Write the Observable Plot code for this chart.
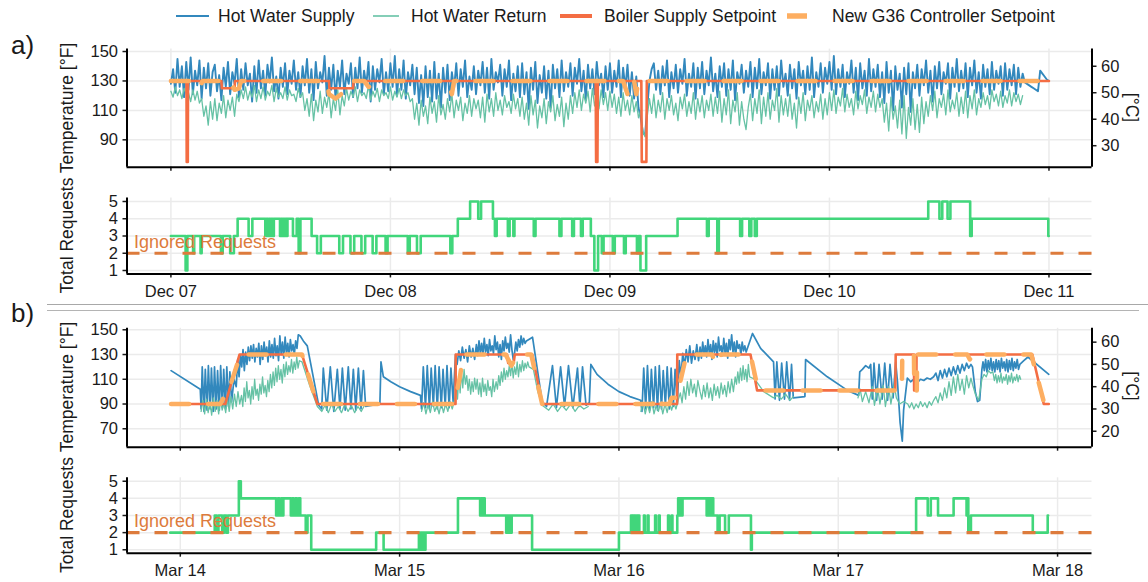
<!DOCTYPE html>
<html><head><meta charset="utf-8">
<script src="https://cdn.jsdelivr.net/npm/d3@7"></script>
<script src="https://cdn.jsdelivr.net/npm/@observablehq/plot@0.6"></script>
<style>
body{margin:0;background:#fff;}
#root{position:relative;width:1148px;height:582px;overflow:hidden;background:#fff;}
#root svg{position:absolute;left:0;}
</style></head><body><div id="root"></div>
<script>
// ---------- tick labels ----------
const daysA = ["Dec 07","Dec 08","Dec 09","Dec 10","Dec 11"];
const daysB = ["Mar 14","Mar 15","Mar 16","Mar 17","Mar 18"];
const tempTicksA = [90,110,130,150];
const tempTicksB = [70,90,110,130,150];
const celsiusA = [30,40,50,60];
const celsiusB = [20,30,40,50,60];
const reqTicks = [1,2,3,4,5];
const legendLabels = ["Hot Water Supply","Hot Water Return","Boiler Supply Setpoint","New G36 Controller Setpoint"];
const ignoredLevel = 2;

// ---------- panel a: temperatures, sampled every 0.01 day from Dec 07 00:00 ----------
const sampleStepA = 0.01;
const supplyA = [
128,138,122,145,126,140,119,143,124,146,121,137,127,144,118,139,125,142,120,136,
141,123,134,117,139,126,143,121,136,128,145,119,138,124,142,127,135,116,140,122,
144,125,137,120,141,129,146,123,133,118,139,126,142,121,137,128,144,124,136,119,
140,127,145,122,138,117,143,125,136,129,147,120,139,124,141,118,137,126,144,121,
135,128,142,119,139,125,146,122,137,127,143,116,140,124,138,129,145,121,136,123,
142,126,147,120,138,124,144,118,136,127,141,121,139,115,134,113,140,119,137,116,
143,118,135,112,139,122,141,117,136,125,142,120,138,126,144,119,133,124,140,121,
137,127,143,122,139,118,145,124,136,129,141,120,138,126,144,117,135,123,140,119,
142,121,136,111,139,124,143,115,134,122,140,118,137,112,141,125,138,119,144,123,
136,126,142,120,139,128,145,123,137,117,141,125,138,121,143,127,135,119,140,124,
142,122,137,126,144,119,139,125,141,120,136,118,133,112,105,95,93,112,130,138,
142,124,137,121,140,127,144,119,136,125,141,122,138,128,145,120,135,126,142,118,
139,125,143,121,137,127,146,123,135,119,140,126,142,120,138,124,144,117,136,128,
141,122,137,126,143,119,139,125,145,121,136,127,142,118,138,124,140,120,144,126,
135,120,141,125,138,118,143,127,137,121,140,124,146,119,136,126,142,122,139,128,
143,124,147,121,138,126,141,119,136,128,144,122,139,117,142,125,137,120,145,123,
138,126,141,119,136,115,143,122,137,110,140,124,135,112,139,121,142,109,136,125,
141,120,138,127,144,122,137,116,140,125,143,121,136,128,142,118,139,126,145,123,
137,125,142,119,139,127,144,122,136,118,141,126,138,121,143,124,137,128,140,120,
142,124,138,127,141,121,139,126,135,129,128,127,126,125,124,123,137,135,133,131,
130];
const returnA = [
123,119,126,120,124,118,125,121,122,116,124,117,123,115,118,106,113,100,116,104,
118,103,115,108,120,105,117,110,119,106,121,116,124,118,126,117,123,119,127,116,
124,118,126,117,123,120,127,116,125,119,122,118,126,117,124,120,121,116,125,119,
122,110,118,106,121,103,117,109,123,108,119,112,122,105,118,110,124,107,120,113,
125,117,123,119,126,116,124,120,122,118,127,117,123,119,125,116,124,120,122,118,
126,117,123,119,125,118,124,120,122,116,118,104,115,100,117,106,113,101,119,108,
116,102,120,107,114,104,118,109,121,105,117,110,119,103,115,108,120,106,118,111,
117,105,119,102,121,109,118,106,122,110,117,107,120,112,116,108,121,111,118,106,
119,104,115,100,120,107,117,98,113,105,118,101,116,109,120,103,114,106,119,99,
115,104,120,108,122,112,124,110,121,115,123,109,125,113,120,111,124,114,122,110,
123,112,121,108,119,106,122,110,117,107,120,109,116,105,110,96,92,106,118,108,
121,105,117,109,122,104,118,110,120,107,115,103,119,111,121,106,116,108,122,104,
118,109,120,105,117,110,121,106,119,108,123,102,118,107,124,101,117,109,122,100,
116,104,97,112,121,103,118,108,124,101,119,106,122,104,117,110,125,102,120,107,
118,106,121,104,115,98,119,108,122,103,117,110,120,105,116,109,121,104,118,107,
122,110,124,108,119,113,125,109,121,112,118,107,123,111,120,114,124,108,119,112,
123,109,121,112,118,102,115,96,119,104,113,98,117,94,120,91,112,100,118,97,
114,95,119,101,116,106,120,110,123,105,118,112,121,107,124,109,117,111,122,106,
119,108,123,105,120,111,124,107,118,112,122,114,120,111,124,116,121,113,123,112,
120,115,124,113,122,116,121,114,120];
// [day, °F]
const boilerA = [[0,130],[0.071,130],[0.072,75],[0.077,75],[0.078,130],[0.23,130],[0.232,125],[0.29,125],[0.292,130],[0.72,130],[0.722,125],[0.83,125],[0.832,130],[1.935,130],[1.937,75],[1.943,75],[1.945,130],[2.143,130],[2.145,75],[2.166,75],[2.168,130],[4.0,130]];
const g36A = [[0,130],[0.12,130],[0.13,126],[0.145,130],[0.27,130],[0.29,124],[0.31,125],[0.32,130],[0.71,130],[0.72,121],[0.75,118],[0.8,124],[0.83,130],[0.88,130],[0.9,126],[0.93,127],[0.94,130],[1.26,130],[1.28,121],[1.29,130],[2.0,130],[2.01,127],[2.03,130],[2.06,130],[2.08,121],[2.09,130],[2.11,130],[2.12,121],[2.13,130],[4.0,130]];
// requests a: [day, count] (step changes)
const reqA = [[0,3],[0.067,1],[0.075,3],[0.101,2],[0.106,3],[0.135,2],[0.14,3],[0.228,2],[0.236,3],[0.27,2],[0.287,3],[0.304,4],
[0.354,3],[0.371,4],[0.43,3],[0.435,4],[0.442,3],[0.447,4],[0.452,3],[0.457,4],[0.464,3],[0.469,4],
[0.497,3],[0.502,4],[0.507,3],[0.512,4],[0.517,3],[0.522,4],[0.527,3],[0.531,4],
[0.556,3],[0.573,4],[0.582,2],[0.59,4],[0.641,3],
[0.666,2],[0.683,3],[0.767,2],[0.784,3],[0.818,2],[0.835,3],[0.868,2],[0.885,3],[0.919,2],[0.936,3],[0.978,2],[0.987,3],[1.079,2],[1.088,3],[1.121,2],[1.138,3],[1.273,2],[1.282,3],
[1.307,4],[1.363,5],[1.4,4],[1.413,5],[1.467,4],
[1.476,3],[1.484,4],[1.535,3],[1.543,4],[1.56,3],[1.565,4],[1.653,3],[1.661,4],[1.77,3],[1.779,4],[1.828,3],[1.836,4],[1.868,3],[1.876,4],
[1.913,3],[1.929,1],[1.946,3],[1.963,2],[1.971,3],[2.013,2],[2.022,3],[2.064,2],[2.072,3],[2.123,2],[2.131,3],[2.139,1],[2.165,3],
[2.308,4],[2.442,3],[2.45,4],[2.489,2],[2.496,4],[2.593,3],[2.602,4],[2.635,3],[2.644,4],[2.66,3],[2.669,4],
[3.45,5],[3.501,4],[3.514,5],[3.538,4],[3.551,5],[3.641,3],[3.648,4],[3.997,3],[3.999,3]];

// ---------- panel b: [day since Mar 14, °F] ----------
const supplyB = [[-0.042,117],[0.091,102],
[0.095,86],[0.100,120],[0.108,84],[0.114,118],[0.122,85],[0.128,121],[0.136,86],[0.142,119],[0.150,84],[0.156,120],[0.164,86],[0.170,117],[0.178,85],[0.184,121],[0.192,87],[0.198,118],[0.206,86],[0.212,120],[0.220,88],[0.226,116],[0.234,92],
[0.245,110],[0.255,104],[0.262,126],[0.268,112],[0.274,130],
[0.280,120],[0.286,134],[0.292,117],[0.298,132],[0.304,122],[0.310,136],[0.316,125],[0.322,137],[0.328,127],[0.334,138],[0.340,124],[0.346,135],[0.352,128],[0.358,139],[0.364,122],[0.370,137],[0.376,126],[0.382,140],[0.388,129],[0.394,136],[0.400,124],[0.406,141],[0.412,128],[0.418,138],[0.424,127],[0.430,143],[0.436,129],[0.442,137],[0.448,125],[0.454,145],[0.460,130],[0.466,140],[0.472,127],[0.478,144],[0.484,131],[0.490,139],[0.496,128],[0.502,142],[0.508,133],[0.514,138],[0.520,130],[0.526,141],[0.532,135],[0.538,146],[0.547,145],
[0.561,141],[0.579,137],[0.631,89],
[0.645,86],[0.652,119],[0.668,85],[0.684,120],[0.700,84],[0.716,118],[0.728,86],[0.739,119],[0.752,85],[0.766,120],[0.778,86],[0.789,118],[0.800,85],[0.812,119],[0.824,86],[0.835,117],[0.845,88],[0.910,90],
[0.915,124],[0.926,112],[0.960,108],[1.000,104],[1.050,100],[1.095,97],
[1.100,86],[1.108,120],[1.118,87],[1.126,121],[1.136,86],[1.144,119],[1.154,88],[1.162,121],[1.172,86],[1.180,120],[1.190,87],[1.198,118],[1.208,88],[1.216,121],[1.226,87],[1.234,119],[1.244,92],
[1.255,130],[1.262,122],[1.270,133],[1.278,125],[1.286,136],[1.294,127],[1.302,134],[1.310,124],[1.318,137],[1.326,128],[1.334,135],[1.342,126],
[1.350,138],[1.356,129],[1.362,141],[1.368,131],[1.374,139],[1.380,130],[1.386,143],[1.392,132],[1.398,138],[1.404,129],[1.410,142],[1.416,133],[1.422,137],[1.428,131],[1.434,145],[1.440,134],[1.446,140],[1.452,128],[1.458,138],[1.464,126],[1.470,141],[1.476,133],[1.482,144],[1.488,135],[1.494,139],[1.500,132],[1.506,146],[1.512,134],[1.518,126],[1.524,131],[1.530,140],[1.536,133],[1.542,142],[1.548,136],[1.554,145],[1.560,138],[1.566,143],[1.572,139],[1.578,141],[1.606,144],[1.650,92],
[1.670,88],[1.697,121],[1.715,87],[1.734,120],[1.752,88],[1.770,121],[1.790,87],[1.811,119],[1.822,88],[1.834,120],[1.850,89],[1.865,91],
[1.872,122],[1.900,114],[1.950,106],[2.000,100],[2.050,96],[2.099,93],
[2.105,84],[2.113,119],[2.122,86],[2.130,121],[2.140,85],[2.148,118],[2.158,87],[2.166,120],[2.176,85],[2.184,121],[2.194,86],[2.202,117],[2.212,88],[2.220,120],[2.230,86],[2.238,119],[2.248,88],[2.256,118],[2.266,90],
[2.275,125],[2.283,112],[2.291,131],[2.299,120],[2.307,134],[2.315,124],[2.323,137],[2.331,123],[2.339,133],[2.347,126],[2.355,138],[2.363,125],
[2.370,136],[2.376,127],[2.382,140],[2.388,130],[2.394,137],[2.400,128],[2.406,142],[2.412,131],[2.418,138],[2.424,126],[2.430,141],[2.436,132],[2.442,139],[2.448,128],[2.454,144],[2.460,133],[2.466,137],[2.472,129],[2.478,143],[2.484,131],[2.490,139],[2.496,127],[2.502,142],[2.508,134],[2.514,146],[2.520,132],[2.526,140],[2.532,128],[2.538,141],[2.544,135],[2.550,138],[2.556,130],[2.562,140],[2.568,133],[2.574,137],[2.580,132],
[2.609,147],[2.646,135],[2.705,124],
[2.712,94],[2.720,124],[2.732,93],[2.742,123],[2.755,94],[2.765,124],[2.778,93],[2.787,122],[2.795,95],
[2.848,96],[2.851,126],[2.950,112],[3.042,101],[3.093,97],
[3.098,116],[3.110,118],[3.125,121],[3.140,119],[3.148,122],[3.155,94],[3.163,123],[3.175,93],[3.186,122],[3.200,94],[3.212,123],[3.225,93],[3.236,122],[3.250,95],[3.262,124],
[3.270,108],[3.282,75],[3.292,60],[3.298,85],[3.315,111],
[3.330,108],[3.345,110],[3.360,107],[3.375,110],[3.390,109],[3.405,111],[3.420,110],[3.435,112],
[3.445,115],[3.455,109],[3.465,117],[3.475,111],[3.485,118],[3.495,112],[3.505,119],[3.515,113],[3.525,120],[3.535,114],[3.545,121],[3.555,115],[3.565,122],[3.575,117],[3.585,123],[3.595,119],[3.605,122],[3.612,120],
[3.625,100],[3.635,92],[3.645,93],[3.655,118],
[3.660,124],[3.666,117],[3.672,126],[3.678,116],[3.684,125],[3.690,118],[3.696,127],[3.702,117],[3.708,124],[3.714,116],[3.720,126],[3.726,118],[3.732,125],[3.738,116],[3.744,127],[3.750,119],[3.756,124],[3.762,117],[3.768,126],[3.774,116],[3.780,125],[3.786,118],[3.792,127],[3.798,117],[3.804,124],[3.810,119],[3.816,126],[3.822,118],[3.828,122],
[3.846,125],[3.865,128],[3.960,114]];
const returnB = [
[0.095,84],[0.103,93],[0.111,82],[0.119,94],[0.127,83],[0.135,92],[0.143,81],[0.151,95],[0.159,84],[0.167,93],[0.175,82],[0.183,94],[0.191,85],[0.199,91],[0.207,83],[0.215,95],[0.223,84],[0.231,96],[0.239,86],[0.247,98],[0.255,88],[0.263,100],[0.271,90],
[0.279,97],[0.285,88],[0.291,103],[0.297,92],[0.303,108],[0.309,95],[0.315,101],[0.321,90],[0.327,104],[0.333,94],[0.339,110],[0.345,97],[0.351,102],[0.357,93],[0.363,106],[0.369,98],[0.375,112],[0.381,99],[0.387,105],[0.393,96],[0.399,109],[0.405,100],
[0.411,114],[0.417,103],[0.423,116],[0.429,105],[0.435,119],[0.441,108],[0.447,121],[0.453,110],[0.459,118],[0.465,107],[0.471,122],[0.477,112],[0.483,124],[0.489,114],[0.495,121],[0.501,116],[0.507,126],[0.513,115],[0.519,124],[0.525,118],[0.531,128],[0.537,119],[0.543,125],
[0.555,124],[0.590,105],[0.625,88],
[0.645,84],[0.660,89],[0.675,83],[0.690,90],[0.705,84],[0.720,88],[0.735,83],[0.750,90],[0.765,84],[0.780,89],[0.795,83],[0.810,88],[0.825,84],[0.840,89],
[0.850,null],
[1.100,84],[1.110,91],[1.120,82],[1.130,90],[1.140,83],[1.150,92],[1.160,84],[1.170,89],[1.180,82],[1.190,91],[1.200,83],[1.210,90],[1.220,84],[1.230,92],[1.240,86],[1.250,93],
[1.258,105],[1.264,94],[1.270,112],[1.276,99],[1.282,116],[1.288,103],[1.294,118],[1.300,106],[1.306,113],[1.312,101],[1.318,110],[1.324,98],[1.330,108],[1.336,100],[1.342,111],
[1.348,102],[1.354,110],[1.360,98],[1.366,107],[1.372,96],[1.378,111],[1.384,100],[1.390,106],[1.396,97],[1.402,109],[1.408,101],[1.414,104],[1.420,96],[1.426,110],[1.432,100],
[1.440,108],[1.446,102],[1.452,113],[1.458,105],[1.464,116],[1.470,108],[1.476,119],[1.482,110],[1.488,117],[1.494,112],[1.500,121],
[1.506,113],[1.512,123],[1.518,111],[1.524,120],[1.530,114],[1.536,124],[1.542,112],[1.548,122],[1.554,116],[1.560,125],[1.566,117],[1.572,123],[1.578,119],[1.584,124],[1.590,120],
[1.610,118],[1.630,100],[1.650,89],
[1.680,85],[1.700,90],[1.720,84],[1.740,89],[1.760,85],[1.780,90],[1.800,84],[1.820,89],[1.840,86],[1.860,88],
[1.870,null],
[2.100,84],[2.110,91],[2.120,82],[2.130,90],[2.140,83],[2.150,92],[2.160,82],[2.170,89],[2.180,84],[2.190,91],[2.200,82],[2.210,90],[2.220,83],[2.230,92],[2.240,85],[2.250,91],[2.260,86],[2.270,93],
[2.280,99],[2.288,91],[2.296,104],[2.304,94],[2.312,108],[2.320,97],[2.328,110],[2.336,99],[2.344,106],[2.352,96],[2.360,109],
[2.370,100],[2.378,94],[2.386,105],[2.394,96],[2.402,107],[2.410,95],[2.418,103],[2.426,93],[2.434,106],[2.442,97],[2.450,104],[2.458,95],[2.466,107],[2.474,98],[2.482,105],[2.490,96],[2.498,108],[2.506,99],[2.514,110],[2.522,100],[2.530,112],
[2.536,106],[2.542,116],[2.548,107],[2.554,119],[2.560,109],[2.566,121],[2.572,110],[2.578,118],[2.584,108],[2.590,122],[2.596,112],
[2.620,110],[2.660,100],[2.705,95],[2.720,97],[2.740,94],[2.760,98],[2.780,93],[2.795,96],
[2.800,null],
[3.090,95],[3.100,102],[3.110,92],[3.125,100],[3.140,91],[3.155,104],[3.165,89],[3.180,103],[3.190,90],[3.205,105],[3.215,88],[3.230,104],[3.240,90],[3.255,106],[3.265,95],
[3.280,90],[3.298,92],
[3.317,90],[3.325,87],[3.335,91],[3.345,86],[3.355,90],[3.365,87],[3.375,92],[3.385,88],[3.395,91],[3.405,87],[3.415,92],[3.425,89],[3.435,93],
[3.445,96],[3.455,91],[3.465,99],[3.475,93],[3.485,103],[3.495,95],[3.505,108],[3.515,97],[3.525,112],[3.535,99],[3.545,114],[3.555,101],[3.565,110],[3.575,98],[3.585,113],[3.595,103],[3.605,111],[3.612,106],
[3.625,98],[3.640,93],
[3.655,110],[3.665,114],[3.675,112],[3.685,117],[3.695,115],[3.705,116],
[3.712,109],[3.718,114],[3.724,107],[3.730,113],[3.736,108],[3.742,115],[3.748,107],[3.754,112],[3.760,109],[3.766,114],[3.772,106],[3.778,113],[3.784,108],[3.790,115],[3.796,107],[3.802,112],[3.808,109],[3.814,114],[3.820,108],[3.826,113],[3.832,110]];
const boilerB = [[-0.042,90],[0.205,90],[0.27,130],[0.555,130],[0.625,90],[1.255,90],[1.256,130],[1.49,130],[1.495,123],[1.52,123],[1.525,130],[1.605,130],[1.65,90],[2.265,90],[2.266,130],[2.6,130],[2.63,101],[3.26,101],[3.262,130],[3.345,130],[3.346,101],[3.356,101],[3.357,130],[3.885,130],[3.937,90],[3.96,90]];
const g36B = [[-0.042,90],[0.182,90],[0.228,105],[0.274,130],[0.555,130],[0.624,90],[1.25,90],[1.275,112],[1.29,130],[1.483,130],[1.51,121],[1.537,130],[1.6,130],[1.65,90],[2.155,90],[2.165,96],[2.185,96],[2.195,90],[2.23,90],[2.24,95],[2.262,95],[2.285,112],[2.308,130],[2.425,130],[2.44,122],[2.465,130],[2.6,130],[2.635,101],[3.29,101],[3.292,130],[3.345,130],[3.347,101],[3.358,101],[3.36,130],[3.588,130],[3.6,126],[3.613,130],[3.88,130],[3.937,92],[3.955,90]];
const reqB = [[-0.046,2],[0.157,3],[0.166,2],[0.174,3],[0.191,2],[0.2,3],[0.21,2],[0.217,3],[0.267,5],[0.276,4],
[0.437,3],[0.445,4],[0.452,3],[0.46,4],[0.465,3],[0.47,4],
[0.504,3],[0.51,4],[0.517,3],[0.525,4],[0.532,3],[0.54,4],[0.547,3],
[0.572,2],[0.58,3],[0.597,1],[0.893,2],[0.927,1],
[1.088,2],[1.093,1],[1.098,2],[1.103,1],[1.108,2],[1.113,1],[1.118,2],
[1.266,4],[1.367,3],[1.373,4],[1.378,3],[1.383,4],[1.388,3],
[1.486,2],[1.491,3],[1.496,2],[1.501,3],[1.506,2],[1.511,3],
[1.604,1],[2.0,2],
[2.055,3],[2.06,2],[2.064,3],[2.068,2],[2.072,3],[2.076,2],[2.081,3],[2.085,2],[2.089,3],[2.093,2],[2.114,3],[2.118,2],[2.131,3],[2.135,2],[2.165,3],[2.169,2],[2.182,3],[2.186,2],[2.224,3],[2.228,2],[2.24,3],[2.244,2],
[2.266,3],[2.27,4],[2.275,3],[2.28,4],[2.285,3],[2.29,4],
[2.4,3],[2.405,4],[2.41,3],[2.415,4],[2.42,3],[2.425,4],[2.43,3],
[2.45,2],[2.459,3],[2.484,2],[2.501,3],[2.602,1],[2.606,2],
[3.355,4],[3.408,3],[3.422,4],[3.455,3],[3.526,4],[3.585,3],[3.59,4],[3.593,2],[3.605,3],[3.887,2],[3.955,3],[3.957,3]];

// ---------- styling ----------
const FONT = '"Liberation Sans", Arial, Helvetica, sans-serif';
const C = {supply:"#3288bd", ret:"#66c2a5", boiler:"#f46d43", g36:"#fdae61", req:"#41d67b", ign:"#dd7b3c", grid:"#ebebeb", ink:"#1a1a1a"};
const root = document.getElementById("root");
const toRows = a => a.map(([t,v]) => ({t, v}));
const sampled = a => a.map((v,i) => ({t: i*sampleStepA, v}));

function place(svg, top) { svg.style.top = top + "px"; root.appendChild(svg); }

function tempPanel(o) {
  const ticksF = o.celsius.map(c => c*9/5+32);
  const p = Plot.plot({
    width: 1148, height: o.height,
    marginLeft: 126.5, marginRight: 56.5, marginTop: o.mTop, marginBottom: o.mBottom,
    x: {type:"linear", domain: o.xDomain},
    y: {type:"linear", domain: o.yDomain},
    style: {fontFamily: FONT, background: "transparent", overflow: "visible", color: C.ink},
    marks: [
      Plot.gridX([0,1,2,3,4], {stroke: C.grid, strokeOpacity: 1, strokeWidth: 1.5}),
      Plot.gridY(o.fTicks, {stroke: C.grid, strokeOpacity: 1, strokeWidth: 1.5}),
      Plot.line(o.supply, {x:"t", y:"v", stroke: C.supply, strokeWidth: o.supplyW}),
      Plot.line(o.ret, {x:"t", y:"v", stroke: C.ret, strokeWidth: 1.3}),
      Plot.line(o.boiler, {x:"t", y:"v", stroke: C.boiler, strokeWidth: 2.6}),
      Plot.line(o.g36, {x:"t", y:"v", stroke: C.g36, strokeWidth: 4.5, strokeDasharray: "18,19"}),
      Plot.axisY(o.fTicks, {anchor:"left", label:null, tickSize:4, tickPadding:5, fontSize:16.5, strokeWidth:1.5}),
      Plot.axisY(ticksF, {anchor:"right", label:null, tickSize:4, tickPadding:5, fontSize:16.5, strokeWidth:1.5, tickFormat: f => String(Math.round((f-32)*5/9))}),
      Plot.axisX([0,1,2,3,4], {anchor:"bottom", label:null, tickSize:4, strokeWidth:1.5, tickFormat: () => ""}),
      Plot.ruleX([o.xDomain[0]], {stroke:"#000", strokeWidth:2}),
      Plot.ruleX([o.xDomain[1]], {stroke:"#000", strokeWidth:2}),
      Plot.ruleY([o.yDomain[0]], {stroke:"#000", strokeWidth:2})
    ]
  });
  place(p, o.top);
}

function reqPanel(o) {
  const p = Plot.plot({
    width: 1148, height: o.height,
    marginLeft: 126.5, marginRight: 56.5, marginTop: o.mTop, marginBottom: o.mBottom,
    x: {type:"linear", domain: o.xDomain},
    y: {type:"linear", domain: [0.8, 5.2]},
    style: {fontFamily: FONT, background: "transparent", overflow: "visible", color: C.ink},
    marks: [
      Plot.gridX([0,1,2,3,4], {stroke: C.grid, strokeOpacity: 1, strokeWidth: 1.5}),
      Plot.gridY(reqTicks, {stroke: C.grid, strokeOpacity: 1, strokeWidth: 1.5}),
      Plot.line(o.req, {x:"t", y:"v", curve:"step-after", stroke: C.req, strokeWidth: 2.6}),
      Plot.ruleY([ignoredLevel], {stroke: C.ign, strokeWidth: 3.2, strokeDasharray: "13,15"}),
      Plot.text(["Ignored Requests"], {frameAnchor:"left", y: ignoredLevel, dx: 7, dy: -11, textAnchor:"start", fill: C.ign, fontSize: 18}),
      Plot.axisY(reqTicks, {anchor:"left", label:null, tickSize:4, tickPadding:5, fontSize:16.5, strokeWidth:1.5}),
      Plot.axisX([0,1,2,3,4], {anchor:"bottom", label:null, tickSize:4, tickPadding:7, fontSize:16.5, strokeWidth:1.5, tickFormat: i => o.labels[i]}),
      Plot.ruleX([o.xDomain[0]], {stroke:"#000", strokeWidth:2}),
      Plot.ruleY([0.8], {stroke:"#000", strokeWidth:2})
    ]
  });
  place(p, o.top);
}

const xDomA = [-0.2, 4.196];
const xDomB = [-0.243, 4.157];

tempPanel({top:40, height:140, mTop:8.6, mBottom:13.3, xDomain:xDomA, yDomain:[71.4,151.65], fTicks:tempTicksA, celsius:celsiusA, supplyW:1.9,
  supply: sampled(supplyA), ret: sampled(returnA), boiler: toRows(boilerA), g36: toRows(g36A)});
reqPanel({top:180, height:125, mTop:17.55, mBottom:31.55, xDomain:xDomA, req: toRows(reqA), labels: daysA});
tempPanel({top:315, height:140, mTop:12.8, mBottom:8.3, xDomain:xDomB, yDomain:[55.1,151.2], fTicks:tempTicksB, celsius:celsiusB, supplyW:1.7,
  supply: toRows(supplyB), ret: toRows(returnB), boiler: toRows(boilerB), g36: toRows(g36B)});
reqPanel({top:455, height:127, mTop:22.3, mBottom:29.3, xDomain:xDomB, req: toRows(reqB), labels: daysB});

// ---------- overlay: legend, panel tags, titles, separator ----------
const ov = d3.create("svg").attr("width",1148).attr("height",582)
  .style("top","0px").style("pointer-events","none")
  .attr("font-family", FONT).attr("fill", C.ink);
const legendItems = [
  {x0:176, x1:209, tx:218, stroke:C.supply, w:2},
  {x0:373, x1:399, tx:411, stroke:C.ret, w:1.6},
  {x0:560, x1:592, tx:604, stroke:C.boiler, w:4},
  {x0:787, x1:807, tx:832, stroke:C.g36, w:5.5}
];
legendItems.forEach((d,i) => {
  ov.append("line").attr("x1",d.x0).attr("x2",d.x1).attr("y1",16).attr("y2",16).attr("stroke",d.stroke).attr("stroke-width",d.w);
  ov.append("text").attr("x",d.tx).attr("y",16).attr("dominant-baseline","central").attr("font-size",17.5).text(legendLabels[i]);
});
ov.append("text").attr("x",11).attr("y",54).attr("font-size",26).text("a)");
ov.append("text").attr("x",11).attr("y",322).attr("font-size",26).text("b)");
ov.append("line").attr("x1",47).attr("x2",1148).attr("y1",304.5).attr("y2",304.5).attr("stroke","#a8a8a8").attr("stroke-width",1.2);
ov.append("line").attr("x1",47).attr("x2",1139).attr("y1",310.5).attr("y2",310.5).attr("stroke","#b4b4b4").attr("stroke-width",1.2);
const vTitle = (x, y, rot, s) => ov.append("text").attr("transform",`translate(${x},${y}) rotate(${rot})`)
  .attr("text-anchor","middle").attr("dominant-baseline","central").attr("font-size",17.5).text(s);
vTitle(67, 108, -90, "Temperature [°F]");
vTitle(67, 235.5, -90, "Total Requests");
vTitle(67, 387, -90, "Temperature [°F]");
vTitle(67, 515, -90, "Total Requests");
vTitle(1132, 107.5, 90, "[°C]");
vTitle(1132, 386, 90, "[°C]");
root.appendChild(ov.node());
</script></body></html>
